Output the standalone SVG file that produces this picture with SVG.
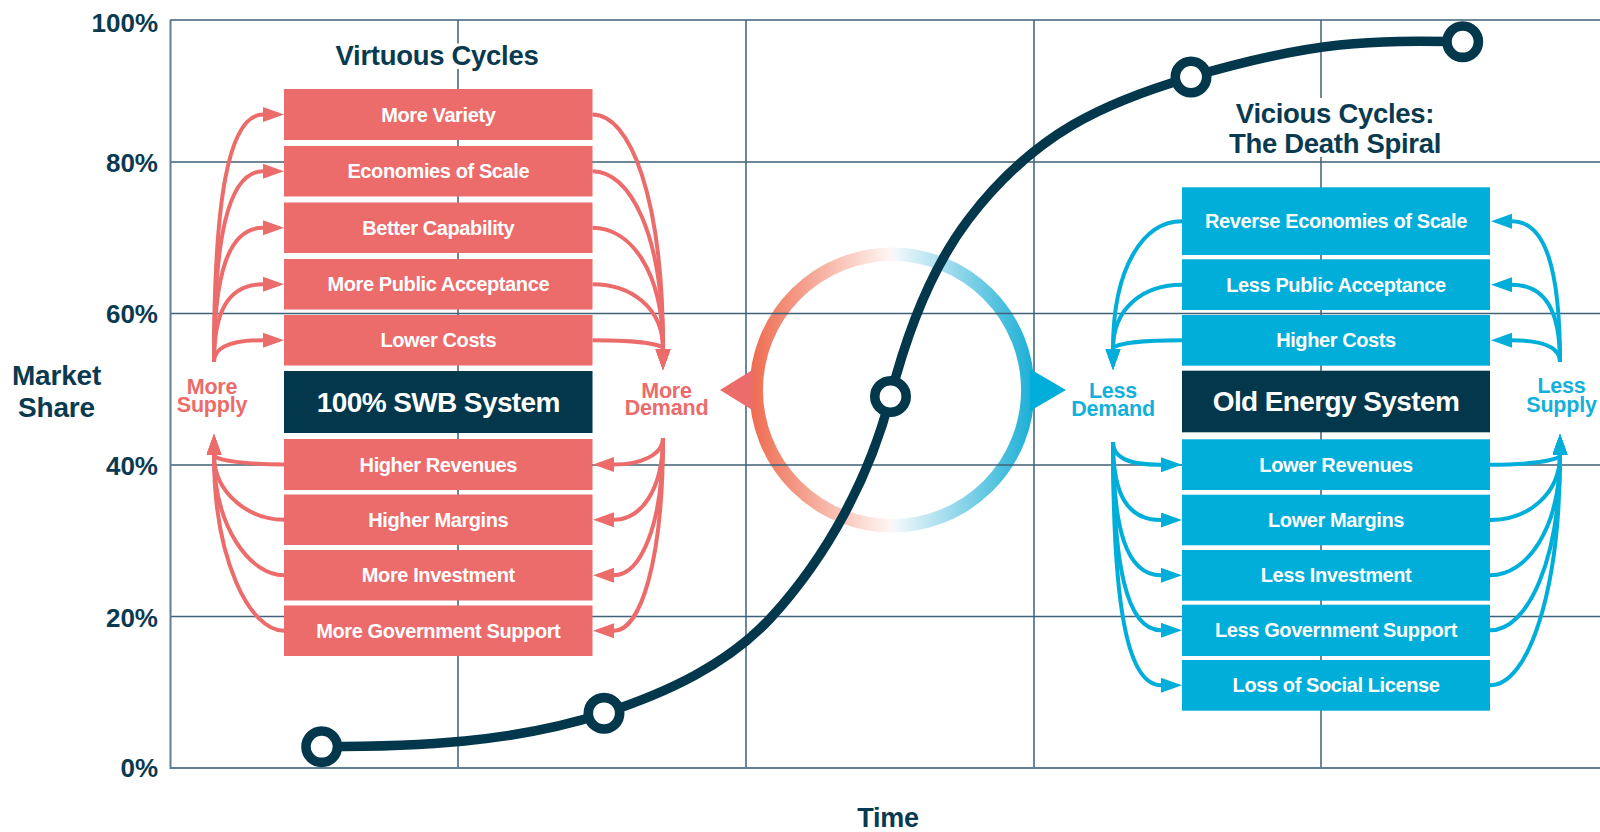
<svg xmlns="http://www.w3.org/2000/svg" width="1600" height="832" viewBox="0 0 1600 832">
<defs>
<style>
text{font-family:"Liberation Sans",Arial,Helvetica,sans-serif;font-weight:bold}
.grid{stroke:#3F6277;stroke-width:1.5;fill:none}
.axis{stroke:#5F7F92;stroke-width:2;fill:none}
.lbl{fill:#0A3A50;font-size:26px;text-anchor:end}
.ttl{fill:#0A3A50;font-size:27.5px;text-anchor:middle;letter-spacing:-0.3px}
.cbox{fill:#EC6B6B}
.bbox{fill:#00AED9}
.nbox{fill:#03374B}
.bt{fill:#fff;font-size:20px;text-anchor:middle;letter-spacing:-0.4px}
.st{fill:#fff;font-size:28px;text-anchor:middle;letter-spacing:-0.6px}
.cl{fill:#EC6B6B;font-size:21.5px;text-anchor:middle;letter-spacing:-0.2px}
.bl{fill:#12B0DB;font-size:21.5px;text-anchor:middle;letter-spacing:-0.2px}
.ca{fill:none;stroke:#EC6B6B;stroke-width:4}
.ba{fill:none;stroke:#00AED9;stroke-width:4}
.ca path{marker-end:url(#mc)}
.ba path{marker-end:url(#mb)}
.dot{fill:#fff;stroke:#03374B;stroke-width:9.6}
</style>
<marker id="mc" markerUnits="userSpaceOnUse" markerWidth="22" markerHeight="16" refX="0" refY="7.5" orient="auto"><path d="M0,0 L21,7.5 L0,15 Z" fill="#EC6B6B"/></marker>
<marker id="mb" markerUnits="userSpaceOnUse" markerWidth="22" markerHeight="16" refX="0" refY="7.5" orient="auto"><path d="M0,0 L21,7.5 L0,15 Z" fill="#00AED9"/></marker>
<linearGradient id="rg" gradientUnits="userSpaceOnUse" x1="750" y1="0" x2="1035" y2="0">
<stop offset="0" stop-color="#EE6A4E"/>
<stop offset="0.49" stop-color="#FFF6F2"/>
<stop offset="0.51" stop-color="#F2F8FB"/>
<stop offset="1" stop-color="#18AED5"/>
</linearGradient>
</defs>
<rect width="1600" height="832" fill="#fff"/>

<g id="ring">
<circle cx="892" cy="390" r="135.8" fill="none" stroke="url(#rg)" stroke-width="13.5"/>
</g>

<g id="grid">
<path class="grid" d="M170,20H1600M170,162H1600M170,313.5H1600M170,465H1600M170,616.5H1600"/>
<path class="grid" d="M458,20V768M746,20V768M1034,20V768M1321,20V768"/>
<path class="axis" d="M170.5,20V768H1600"/>
</g>

<g id="ring-arrows">
<polygon points="720,390 754,369 754,411" fill="#EC6B6B"/>
<polygon points="1066,390 1030,369 1030,411" fill="#00AED9"/>
</g>

<g id="axis-labels">
<text class="lbl" x="158" y="31.7">100%</text>
<text class="lbl" x="158" y="171.7">80%</text>
<text class="lbl" x="158" y="322.7">60%</text>
<text class="lbl" x="158" y="475">40%</text>
<text class="lbl" x="158" y="626.7">20%</text>
<text class="lbl" x="158" y="776.7">0%</text>
<text class="ttl" style="font-size:28px;letter-spacing:-0.2px"><tspan x="56.5" y="385">Market</tspan><tspan x="56.5" y="416.5">Share</tspan></text>
<text class="ttl" x="888" y="827" style="font-size:27px">Time</text>
</g>

<g id="title-virtuous">
<rect x="332" y="43.5" width="212" height="25.5" fill="#fff"/>
<text class="ttl" x="437" y="65">Virtuous Cycles</text>
</g>
<g id="title-vicious">
<rect x="1222" y="98" width="226" height="59" fill="#fff"/>
<text class="ttl"><tspan x="1335" y="122.7">Vicious Cycles:</tspan><tspan x="1335" y="153.3">The Death Spiral</tspan></text>
</g>

<g id="virtuous-boxes">
<g id="more-variety"><rect class="cbox" x="284" y="89" width="308.5" height="51"/><text class="bt" x="438.3" y="121.5">More Variety</text></g>
<g id="economies-of-scale"><rect class="cbox" x="284" y="146" width="308.5" height="50.5"/><text class="bt" x="438.3" y="178.3">Economies of Scale</text></g>
<g id="better-capability"><rect class="cbox" x="284" y="202.5" width="308.5" height="50.5"/><text class="bt" x="438.3" y="234.8">Better Capability</text></g>
<g id="more-public-acceptance"><rect class="cbox" x="284" y="259" width="308.5" height="50.5"/><text class="bt" x="438.3" y="291.3">More Public Acceptance</text></g>
<g id="lower-costs"><rect class="cbox" x="284" y="315" width="308.5" height="50.5"/><text class="bt" x="438.3" y="347.3">Lower Costs</text></g>
<g id="swb-system"><rect class="nbox" x="284" y="371" width="308.5" height="62"/><text class="st" x="438.3" y="411.5">100% SWB System</text></g>
<g id="higher-revenues"><rect class="cbox" x="284" y="439" width="308.5" height="51"/><text class="bt" x="438.3" y="471.5">Higher Revenues</text></g>
<g id="higher-margins"><rect class="cbox" x="284" y="494.5" width="308.5" height="50.5"/><text class="bt" x="438.3" y="526.8">Higher Margins</text></g>
<g id="more-investment"><rect class="cbox" x="284" y="550" width="308.5" height="50.5"/><text class="bt" x="438.3" y="582.3">More Investment</text></g>
<g id="more-government-support"><rect class="cbox" x="284" y="605.5" width="308.5" height="50.5"/><text class="bt" x="438.3" y="637.8">More Government Support</text></g>
</g>

<g id="vicious-boxes">
<g id="reverse-economies"><rect class="bbox" x="1182" y="187.3" width="308" height="67.7"/><text class="bt" x="1336" y="228.2">Reverse Economies of Scale</text></g>
<g id="less-public-acceptance"><rect class="bbox" x="1182" y="259.3" width="308" height="50.7"/><text class="bt" x="1336" y="291.7">Less Public Acceptance</text></g>
<g id="higher-costs"><rect class="bbox" x="1182" y="315" width="308" height="50.7"/><text class="bt" x="1336" y="347.3">Higher Costs</text></g>
<g id="old-energy-system"><rect class="nbox" x="1182" y="370.7" width="308" height="61.6"/><text class="st" x="1336" y="411">Old Energy System</text></g>
<g id="lower-revenues"><rect class="bbox" x="1182" y="439.3" width="308" height="50.7"/><text class="bt" x="1336" y="471.7">Lower Revenues</text></g>
<g id="lower-margins"><rect class="bbox" x="1182" y="494.7" width="308" height="50.6"/><text class="bt" x="1336" y="527">Lower Margins</text></g>
<g id="less-investment"><rect class="bbox" x="1182" y="550" width="308" height="50.7"/><text class="bt" x="1336" y="582.3">Less Investment</text></g>
<g id="less-government-support"><rect class="bbox" x="1182" y="604.7" width="308" height="51.3"/><text class="bt" x="1336" y="637.3">Less Government Support</text></g>
<g id="loss-of-social-license"><rect class="bbox" x="1182" y="660" width="308" height="50.7"/><text class="bt" x="1336" y="692.3">Loss of Social License</text></g>
</g>

<g id="side-labels">
<g id="more-supply"><text class="cl"><tspan x="212" y="394">More</tspan><tspan x="212" y="411.7">Supply</tspan></text></g>
<g id="more-demand"><text class="cl"><tspan x="666.5" y="397.7">More</tspan><tspan x="666.5" y="415">Demand</tspan></text></g>
<g id="less-demand"><text class="bl"><tspan x="1113" y="398">Less</tspan><tspan x="1113" y="416">Demand</tspan></text></g>
<g id="less-supply"><text class="bl"><tspan x="1561.5" y="393.3">Less</tspan><tspan x="1561.5" y="411.7">Supply</tspan></text></g>
</g>

<g id="connectors">
<g class="ca">
<path d="M214,362 C214,201.1 228,114.5 263,114.5"/>
<path d="M214,362 C214,238 228,171.25 263,171.25"/>
<path d="M214,362 C214,274.7 228,227.75 263,227.75"/>
<path d="M214,362 C214,311.5 228,284.25 263,284.25"/>
<path d="M214,362 C214,347.9 228,340.25 263,340.25"/>
<path d="M592.5,114.5 C630,114.5 663,196.6 663,349"/>
<path d="M592.5,171.25 C630,171.25 663,233.5 663,349"/>
<path d="M592.5,227.75 C630,227.75 663,270.2 663,349"/>
<path d="M592.5,284.25 C630,284.25 663,306.9 663,349"/>
<path d="M592.5,340.25 C630,340.25 663,343.3 663,349"/>
<path d="M663,438 C663,455.2 640,464.5 614,464.5"/>
<path d="M663,438 C663,491.1 640,519.75 614,519.75"/>
<path d="M663,438 C663,527.2 640,575.25 614,575.25"/>
<path d="M663,438 C663,563.3 640,630.75 614,630.75"/>
<path d="M284,464.5 C250,464.5 214,460.7 214,455"/>
<path d="M284,519.75 C250,519.75 214,493.85 214,455"/>
<path d="M284,575.25 C250,575.25 214,527.15 214,455"/>
<path d="M284,630.75 C250,630.75 214,560.45 214,455"/>
</g>
<g class="ba">
<path d="M1182,221.2 C1144,221.2 1113,265.9 1113,349"/>
<path d="M1182,284.7 C1144,284.7 1113,307.2 1113,349"/>
<path d="M1182,340.3 C1144,340.3 1113,343.3 1113,349"/>
<path d="M1560,362 C1560,270.5 1546,221.2 1512,221.2"/>
<path d="M1560,362 C1560,311.8 1546,284.7 1512,284.7"/>
<path d="M1560,362 C1560,347.9 1546,340.3 1512,340.3"/>
<path d="M1113,442 C1113,456.8 1126,464.7 1161,464.7"/>
<path d="M1113,442 C1113,492.7 1126,520 1161,520"/>
<path d="M1113,442 C1113,528.6 1126,575.3 1161,575.3"/>
<path d="M1113,442 C1113,564.4 1126,630.3 1161,630.3"/>
<path d="M1113,442 C1113,600.1 1126,685.3 1161,685.3"/>
<path d="M1490,464.7 C1528,464.7 1560,460.8 1560,455"/>
<path d="M1490,520 C1528,520 1560,494 1560,455"/>
<path d="M1490,575.3 C1528,575.3 1560,527.2 1560,455"/>
<path d="M1490,630.3 C1528,630.3 1560,560.2 1560,455"/>
<path d="M1490,685.3 C1528,685.3 1560,593.2 1560,455"/>
</g>
</g>

<g id="s-curve">
<path d="M321.7,746.7 C416.7,746.7 513.75,742.75 604,713.3 C665.75,693.15 728.3,664.6 772,616.5 C827.8,555.1 869.75,477 890.5,396.5 C906.5,334.4 929.4,271 968,220 C1034.3,132.3 1106.6,101.9 1191,77 C1315.7,40.2 1371.7,40.3 1462.7,41.7" fill="none" stroke="#03374B" stroke-width="9.5"/>
<circle class="dot" cx="321.7" cy="746.7" r="15.7"/>
<circle class="dot" cx="604" cy="713.3" r="15.7"/>
<circle class="dot" cx="890.5" cy="396.5" r="15.7"/>
<circle class="dot" cx="1191" cy="77" r="15.7"/>
<circle class="dot" cx="1462.7" cy="41.7" r="15.7"/>
</g>
</svg>
